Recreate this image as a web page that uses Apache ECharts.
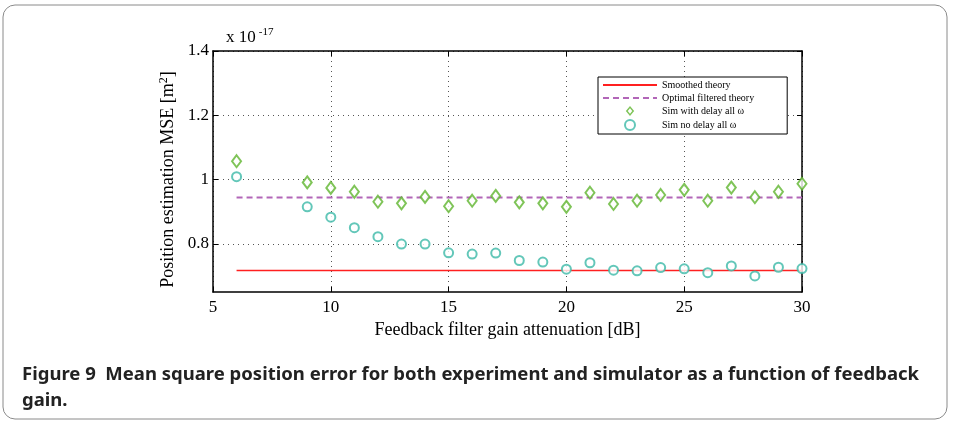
<!DOCTYPE html>
<html>
<head>
<meta charset="utf-8">
<script src="https://cdn.jsdelivr.net/npm/echarts@6/dist/echarts.min.js"></script>
<style>
  html, body { margin: 0; padding: 0; background: #fff; }
  #chart { width: 955px; height: 424px; }
</style>
</head>
<body>
<div id="chart"></div>
<script>
// gain attenuation [dB]
var gains = [6, 9, 10, 11, 12, 13, 14, 15, 16, 17, 18, 19, 20, 21, 22, 23, 24, 25, 26, 27, 28, 29, 30];
// MSE values, x 1e-17 m^2
var simDelay = [1.057, 0.991, 0.974, 0.962, 0.931, 0.926, 0.946, 0.917, 0.934, 0.949, 0.929, 0.926,
  0.915, 0.959, 0.924, 0.934, 0.952, 0.968, 0.934, 0.975, 0.945, 0.962, 0.987];
var simNoDelay = [1.009, 0.915, 0.883, 0.85, 0.822, 0.799, 0.799, 0.772, 0.768, 0.771, 0.748, 0.743,
  0.721, 0.741, 0.718, 0.716, 0.726, 0.722, 0.71, 0.731, 0.7, 0.727, 0.723];
var smoothedTheory = 0.717;
var optimalTheory = 0.944;
var yTicks = [0.8, 1, 1.2, 1.4];

var serif = 'Liberation Serif';
var chart = echarts.init(document.getElementById('chart'));

function pairs(xs, ys) {
  return xs.map(function (x, i) { return [x, ys[i]]; });
}
function flat(v) {
  return [[gains[0], v], [gains[gains.length - 1], v]];
}

var gridLine = { show: true, lineStyle: { color: '#555', type: [1, 4], width: 1 } };
// hollow diamond for the legend (keeps its aspect)
var diamondIcon = 'path://M5,0L10,6L5,12L0,6Z M5,2.7L2.3,6L5,9.3L7.7,6Z';

chart.setOption({
  animation: false,
  grid: { left: 213, right: 153, top: 51, bottom: 132 },
  graphic: [
    {
      type: 'rect', shape: { x: 3, y: 5, width: 944, height: 414, r: 12 },
      style: { fill: 'none', stroke: '#8a8a8a', lineWidth: 1 }, silent: true
    },
    {
      type: 'text', left: 226, top: 27,
      style: {
        text: 'x 10{s|-17}', font: '17px ' + serif, fill: '#000',
        rich: { s: { fontSize: 11, fontFamily: serif, verticalAlign: 'top', padding: [0, 0, 10, 3] } }
      }
    },
    {
      type: 'text', left: 22, top: 362,
      style: {
        text: 'Figure 9  Mean square position error for both experiment and simulator as a function of feedback\ngain.',
        font: 'bold 18.5px "Noto Sans"', fill: '#222', lineHeight: 26
      }
    }
  ],
  legend: {
    orient: 'vertical', left: 598, top: 77,
    backgroundColor: '#fff', borderColor: '#000', borderWidth: 1,
    padding: [3, 33, 3, 4], itemGap: 3, itemWidth: 54, itemHeight: 10,
    textStyle: { fontFamily: serif, fontSize: 10, color: '#000' },
    data: [
      { name: 'Smoothed theory', itemStyle: { opacity: 0 } },
      { name: 'Optimal filtered theory', itemStyle: { opacity: 0 } },
      { name: 'Sim with delay all \u03c9', icon: diamondIcon, itemStyle: { borderWidth: 0 } },
      { name: 'Sim no delay all \u03c9' }
    ]
  },
  xAxis: [
    {
      type: 'value', min: 5, max: 30, interval: 5,
      name: 'Feedback filter gain attenuation [dB]', nameLocation: 'middle', nameGap: 29,
      nameTextStyle: { fontFamily: serif, fontSize: 18, color: '#000' },
      axisLine: { show: true, onZero: false, lineStyle: { color: '#000', width: 1.5 } },
      axisTick: { inside: true, length: 5, lineStyle: { color: '#000' } },
      axisLabel: { fontFamily: serif, fontSize: 17, color: '#000', margin: 7 },
      splitLine: gridLine
    },
    {
      type: 'value', min: 5, max: 30, interval: 5, position: 'top',
      axisLine: { show: true, onZero: false, lineStyle: { color: '#000', width: 1.5 } },
      axisTick: { inside: true, length: 5, lineStyle: { color: '#000' } },
      axisLabel: { show: false }, splitLine: { show: false }
    }
  ],
  yAxis: [
    {
      type: 'value', min: 0.65, max: 1.4,
      name: 'Position estimation MSE [m{s|2}]', nameLocation: 'middle', nameGap: 33, nameRotate: 90,
      nameTextStyle: {
        fontFamily: serif, fontSize: 18, color: '#000', padding: [0, 16, 0, 0],
        rich: { s: { fontFamily: serif, fontSize: 12, verticalAlign: 'top', padding: [0, 0, 9, 0] } }
      },
      axisLine: { show: true, onZero: false, lineStyle: { color: '#000', width: 1.5 } },
      axisTick: { inside: true, length: 5, customValues: yTicks, lineStyle: { color: '#000' } },
      axisLabel: { fontFamily: serif, fontSize: 17, color: '#000', margin: 4, customValues: yTicks },
      splitLine: gridLine
    },
    {
      type: 'value', min: 0.65, max: 1.4, position: 'right',
      axisLine: { show: true, onZero: false, lineStyle: { color: '#000', width: 1.5 } },
      axisTick: { inside: true, length: 5, customValues: yTicks, lineStyle: { color: '#000' } },
      axisLabel: { show: false }, splitLine: { show: false }
    }
  ],
  series: [
    {
      name: 'Smoothed theory', type: 'line', data: flat(smoothedTheory),
      symbol: 'none', color: '#ff2020', lineStyle: { width: 1.5, color: '#ff2020' }, z: 3
    },
    {
      name: 'Optimal filtered theory', type: 'line', data: flat(optimalTheory),
      symbol: 'none', color: '#b266b8', lineStyle: { width: 2, color: '#b266b8', type: [6, 4] }, z: 3
    },
    {
      name: 'Sim with delay all \u03c9', type: 'scatter', data: pairs(gains, simDelay),
      symbol: 'emptyDiamond', symbolSize: [9, 12],
      itemStyle: { color: '#5fb52e', borderColor: '#5fb52e', borderWidth: 1.5 }, z: 4
    },
    {
      name: 'Sim no delay all \u03c9', type: 'scatter', data: pairs(gains, simNoDelay),
      symbol: 'emptyCircle', symbolSize: 9,
      itemStyle: { color: '#3cb9a8', borderColor: '#3cb9a8', borderWidth: 1.5 }, z: 4
    }
  ]
});
</script>
</body>
</html>
